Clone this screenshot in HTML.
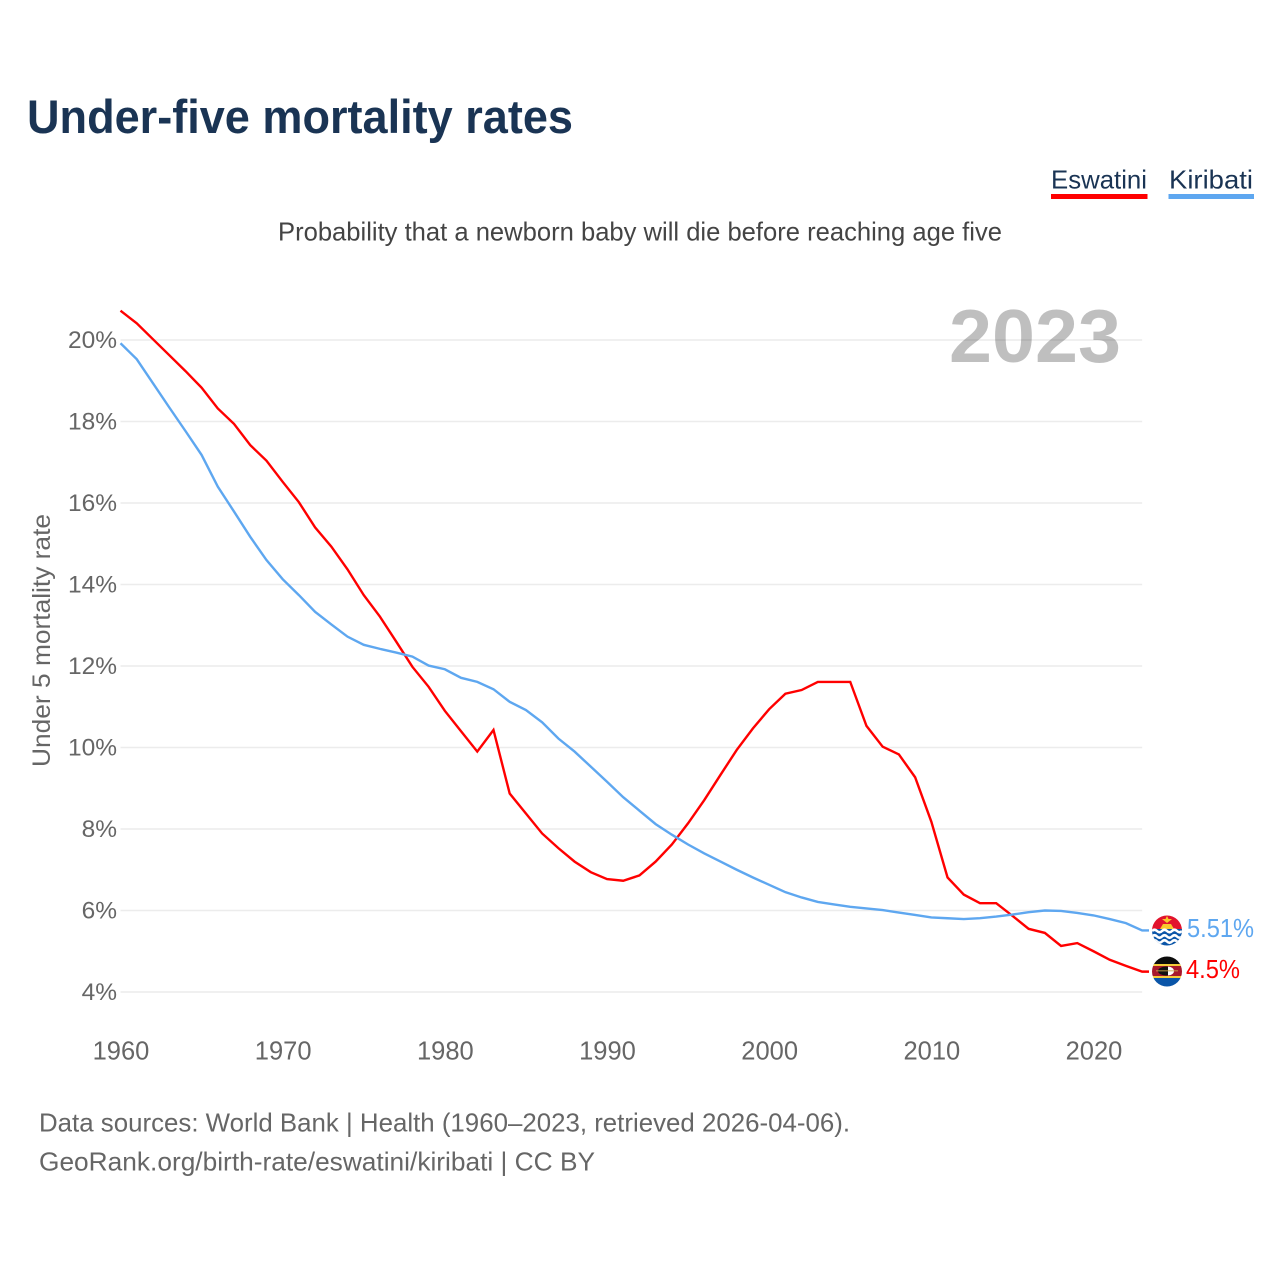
<!DOCTYPE html>
<html lang="en">
<head>
<meta charset="utf-8">
<title>Under-five mortality rates</title>
<style>
html,body{margin:0;padding:0;background:#fff;}
svg{display:block;font-family:"Liberation Sans",Arial,sans-serif;}
</style>
</head>
<body>
<svg id="chart" xmlns="http://www.w3.org/2000/svg" width="1280" height="1280" viewBox="0 0 1280 1280">
  <defs>
    <clipPath id="flag-clip-a"><circle cx="1167" cy="930.5" r="15"/></clipPath>
    <clipPath id="flag-clip-b"><circle cx="1167" cy="971.5" r="15"/></clipPath>
  </defs>
  <rect x="0" y="0" width="1280" height="1280" fill="#fff"/>
  <text x="27" y="133" font-size="47" font-weight="700" fill="#1a3454" textLength="546" lengthAdjust="spacingAndGlyphs">Under-five mortality rates</text>
  <g>
    <text x="1051" y="188.500" font-size="26" fill="#1a3454" textLength="96" lengthAdjust="spacingAndGlyphs">Eswatini</text>
    <rect x="1051" y="194" width="96.500" height="5" fill="#ff0000"/>
    <text x="1169" y="188.500" font-size="26" fill="#1a3454" textLength="84" lengthAdjust="spacingAndGlyphs">Kiribati</text>
    <rect x="1168.500" y="194" width="85.500" height="5" fill="#5ea7f0"/>
  </g>
  <text x="278" y="240.500" font-size="26" fill="#444" textLength="724" lengthAdjust="spacingAndGlyphs">Probability that a newborn baby will die before reaching age five</text>
  <g id="grid"></g>
  <g id="yticks"></g>
  <g id="xticks"></g>
  <text transform="translate(50,640.500) rotate(-90)" text-anchor="middle" font-size="25" fill="#666" textLength="253" lengthAdjust="spacingAndGlyphs">Under 5 mortality rate</text>
  <text x="949" y="362" font-size="75" font-weight="700" fill="#000" fill-opacity="0.25" textLength="172" lengthAdjust="spacingAndGlyphs">2023</text>
  <g id="series"></g>

  <g clip-path="url(#flag-clip-a)">
    <rect x="1152" y="915" width="30" height="16" fill="#e2132d"/>
    <rect x="1152" y="929" width="30" height="17" fill="#0a55a8"/>
    <polygon points="1160,929 1174,929 1171,924 1163,924" fill="#f8c92c"/>
    <polygon points="1162,919 1172,919 1167,923" fill="#f8c92c"/>
    <polygon points="1167,916 1169,920 1165,920" fill="#f8c92c"/>
    <path d="M1152 931 q2.500 -2.500 5 0 t5 0 t5 0 t5 0 t5 0 t5 0" fill="none" stroke="#fff" stroke-width="2.500"/>
    <path d="M1152 936.500 q2.500 -2.500 5 0 t5 0 t5 0 t5 0 t5 0 t5 0" fill="none" stroke="#fff" stroke-width="2.500"/>
    <path d="M1152 941.500 q2.500 -2.500 5 0 t5 0 t5 0 t5 0 t5 0 t5 0" fill="none" stroke="#fff" stroke-width="2.500"/>
  </g>
  <g clip-path="url(#flag-clip-b)">
    <rect x="1152" y="956" width="30" height="9" fill="#0c0c0c"/>
    <rect x="1152" y="964" width="30" height="2" fill="#f5cb3a"/>
    <rect x="1152" y="966" width="30" height="10" fill="#a8182c"/>
    <rect x="1152" y="976" width="30" height="2" fill="#f5cb3a"/>
    <rect x="1152" y="978" width="30" height="9" fill="#0a55a8"/>
    <ellipse cx="1166" cy="971" rx="8" ry="4.500" fill="#111"/>
    <path d="M1168 966.500 A6 4.500 0 0 1 1168 975.500 Z" fill="#fff"/>
    <rect x="1156" y="970" width="22" height="1.500" fill="#caa64a" opacity="0.6"/>
  </g>
  <g id="endlabels"></g>

  <text x="39" y="1131.500" font-size="26" fill="#666" textLength="811" lengthAdjust="spacingAndGlyphs">Data sources: World Bank | Health (1960–2023, retrieved 2026-04-06).</text>
  <text x="39" y="1170.500" font-size="26" fill="#666" textLength="556" lengthAdjust="spacingAndGlyphs">GeoRank.org/birth-rate/eswatini/kiribati | CC BY</text>
</svg>
<script>
const startYear = 1960;
const yTickValues = [4, 6, 8, 10, 12, 14, 16, 18, 20];
const xTickYears = [1960, 1970, 1980, 1990, 2000, 2010, 2020];
const eswatiniValues = [20.72,20.41,20.02,19.63,19.24,18.83,18.32,17.94,17.42,17.04,16.52,16.02,15.40,14.93,14.37,13.74,13.21,12.60,11.98,11.49,10.90,10.40,9.90,10.43,8.87,8.38,7.89,7.53,7.20,6.94,6.77,6.73,6.86,7.20,7.62,8.14,8.71,9.33,9.94,10.47,10.94,11.32,11.41,11.61,11.61,11.61,10.53,10.02,9.83,9.27,8.18,6.81,6.39,6.18,6.18,5.87,5.55,5.45,5.13,5.20,5.00,4.79,4.64,4.50];
const kiribatiValues = [19.92,19.53,18.94,18.35,17.77,17.18,16.40,15.79,15.17,14.60,14.13,13.74,13.33,13.02,12.72,12.52,12.42,12.33,12.23,12.01,11.92,11.71,11.61,11.43,11.12,10.92,10.62,10.22,9.90,9.53,9.16,8.78,8.45,8.12,7.86,7.62,7.40,7.20,7.00,6.81,6.63,6.45,6.32,6.21,6.15,6.09,6.05,6.01,5.95,5.89,5.83,5.81,5.79,5.81,5.85,5.90,5.96,6.00,5.99,5.94,5.88,5.79,5.69,5.51];

const NS = 'http://www.w3.org/2000/svg';
function xScale(year) { return 120.5 + (year - 1960) * (1093.5 - 120.5) / 60; }
function yScale(v) { return 992 - (v - 4) * (992 - 340) / 16; }
const plotLeft = xScale(1960);
const plotRight = xScale(2023);

const gridGroup = document.getElementById('grid');
const yGroup = document.getElementById('yticks');
yTickValues.forEach(function (v) {
  const line = document.createElementNS(NS, 'line');
  
  
  line.setAttribute('x1', plotLeft);
  line.setAttribute('x2', plotRight);
  line.setAttribute('y1', yScale(v));
  line.setAttribute('y2', yScale(v));
  line.setAttribute('stroke', '#ececec');
  line.setAttribute('stroke-width', '1.5');
  gridGroup.appendChild(line);
  const label = document.createElementNS(NS, 'text');
  
  
  label.setAttribute('x', 117);
  label.setAttribute('y', yScale(v) + 8);
  label.setAttribute('text-anchor', 'end');
  label.setAttribute('font-size', '24.5');
  label.setAttribute('fill', '#666');
  label.textContent = v + '%';
  yGroup.appendChild(label);
});

const xGroup = document.getElementById('xticks');
xTickYears.forEach(function (year) {
  const label = document.createElementNS(NS, 'text');
  
  
  label.setAttribute('x', xScale(year) + 0.5);
  label.setAttribute('y', 1059.5);
  label.setAttribute('text-anchor', 'middle');
  label.setAttribute('font-size', '25.5');
  label.setAttribute('fill', '#666');
  label.textContent = year;
  xGroup.appendChild(label);
});

function pointsFor(values) {
  return values.map(function (v, i) {
    return xScale(startYear + i).toFixed(2) + ',' + yScale(v).toFixed(2);
  });
}

const seriesGroup = document.getElementById('series');
const labelGroup = document.getElementById('endlabels');

const eswatiniLine = document.createElementNS(NS, 'polyline');


eswatiniLine.setAttribute('points', pointsFor(eswatiniValues).join(' ') + ' 1149,' + yScale(eswatiniValues[eswatiniValues.length - 1]).toFixed(2));
eswatiniLine.setAttribute('fill', 'none');
eswatiniLine.setAttribute('stroke', '#ff0000');
eswatiniLine.setAttribute('stroke-width', '2.4');
seriesGroup.appendChild(eswatiniLine);

const kiribatiLine = document.createElementNS(NS, 'polyline');


kiribatiLine.setAttribute('points', pointsFor(kiribatiValues).join(' ') + ' 1149,' + yScale(kiribatiValues[kiribatiValues.length - 1]).toFixed(2));
kiribatiLine.setAttribute('fill', 'none');
kiribatiLine.setAttribute('stroke', '#5ea7f0');
kiribatiLine.setAttribute('stroke-width', '2.4');
seriesGroup.appendChild(kiribatiLine);

const kiribatiLabel = document.createElementNS(NS, 'text');


kiribatiLabel.setAttribute('x', 1187);
kiribatiLabel.setAttribute('y', yScale(kiribatiValues[kiribatiValues.length - 1]) + 6.5);
kiribatiLabel.setAttribute('font-size', '25.5');
kiribatiLabel.setAttribute('fill', '#5ea7f0');
kiribatiLabel.setAttribute('textLength', '67');
kiribatiLabel.setAttribute('lengthAdjust', 'spacingAndGlyphs');
kiribatiLabel.textContent = kiribatiValues[kiribatiValues.length - 1] + '%';
labelGroup.appendChild(kiribatiLabel);

const eswatiniLabel = document.createElementNS(NS, 'text');


eswatiniLabel.setAttribute('x', 1186);
eswatiniLabel.setAttribute('y', yScale(eswatiniValues[eswatiniValues.length - 1]) + 6.5);
eswatiniLabel.setAttribute('font-size', '25.5');
eswatiniLabel.setAttribute('fill', '#ff0000');
eswatiniLabel.setAttribute('textLength', '54');
eswatiniLabel.setAttribute('lengthAdjust', 'spacingAndGlyphs');
eswatiniLabel.textContent = eswatiniValues[eswatiniValues.length - 1] + '%';
labelGroup.appendChild(eswatiniLabel);
</script>
</body>
</html>
